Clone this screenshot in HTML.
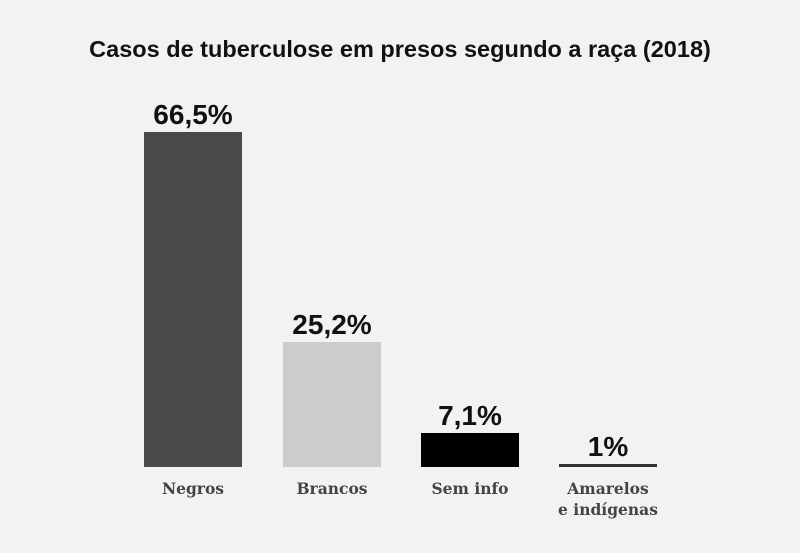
<!DOCTYPE html>
<html><head><meta charset="utf-8"><style>
body{margin:0;width:800px;height:553px;background:#f2f2f2;position:relative;overflow:hidden;font-family:"Liberation Sans",sans-serif}
.t{position:absolute;left:0;width:800px;top:36px;text-align:center;font-weight:bold;font-size:23.5px;color:#111}
.b{position:absolute;width:98px}
.v{position:absolute;width:140px;text-align:center;font-weight:bold;font-size:28px;color:#111}
.l{position:absolute;width:140px;text-align:center;font-family:"DejaVu Serif",serif;font-weight:bold;font-size:15.5px;color:#444;line-height:21px}
</style></head><body>
<div class="t">Casos de tuberculose em presos segundo a raça (2018)</div>
<div class="b" style="left:144px;top:132px;height:335px;background:#4a4a4a"></div>
<div class="b" style="left:283px;top:342px;height:125px;background:#cccccc"></div>
<div class="b" style="left:421px;top:433px;height:34px;background:#000"></div>
<div class="b" style="left:559px;top:464px;height:3px;background:#333"></div>
<div class="v" style="left:123px;top:99px">66,5%</div>
<div class="v" style="left:262px;top:309px">25,2%</div>
<div class="v" style="left:400px;top:400px">7,1%</div>
<div class="v" style="left:538px;top:431px">1%</div>
<div class="l" style="left:123px;top:478px">Negros</div>
<div class="l" style="left:262px;top:478px">Brancos</div>
<div class="l" style="left:400px;top:478px">Sem info</div>
<div class="l" style="left:538px;top:478px">Amarelos<br>e indígenas</div>
</body></html>
